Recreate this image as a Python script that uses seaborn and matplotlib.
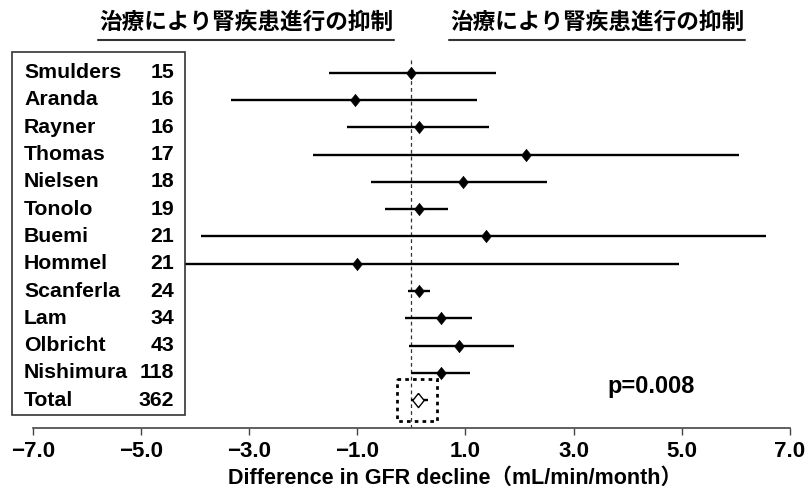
import matplotlib
matplotlib.use("Agg")
import matplotlib.pyplot as plt
import matplotlib.transforms as mtransforms
from matplotlib.patches import Rectangle
from matplotlib.lines import Line2D
import pandas as pd
import seaborn as sns

# Study data
studies = ["Smulders", "Aranda", "Rayner", "Thomas", "Nielsen", "Tonolo", "Buemi",
           "Hommel", "Scanferla", "Lam", "Olbricht", "Nishimura"]
patients = [15, 16, 16, 17, 18, 19, 21, 21, 24, 34, 43, 118]
estimate = [0.0, -1.05, 0.15, 2.12, 0.96, 0.15, 1.38, -1.0, 0.14, 0.54, 0.89, 0.54]
ci_low = [-1.52, -3.33, -1.19, -1.81, -0.75, -0.48, -3.89, -4.4, -0.06, -0.12, -0.04, 0.0]
ci_high = [1.57, 1.22, 1.44, 6.06, 2.50, 0.68, 6.56, 4.94, 0.34, 1.12, 1.89, 1.09]

total_label = "Total"
total_n = 362
total_est = 0.12
total_low, total_high = 0.0, 0.30

p_text = "p=0.008"
header = "治療により腎疾患進行の抑制"
x_ticks = [-7.0, -5.0, -3.0, -1.0, 1.0, 3.0, 5.0, 7.0]
x_label = "Difference in GFR decline（mL/min/month）"

df = pd.DataFrame({"study": studies, "n": patients, "est": estimate,
                   "lo": ci_low, "hi": ci_high})
df["row"] = range(len(df))
total_row = len(df)

sns.set_style("white")
plt.rcParams["font.family"] = ["Liberation Sans", "Noto Sans CJK JP", "DejaVu Sans"]
plt.rcParams["text.color"] = "black"
plt.rcParams["xtick.color"] = "#444444"
plt.rcParams["xtick.labelcolor"] = "black"

W, H = 808, 498
fig = plt.figure(figsize=(W / 100, H / 100), dpi=100)
ax = fig.add_axes([32.7 / W, 1 - 428.3 / H, 757.3 / W, (428.3 - 50) / H])

diamond = [(0, 1), (0.8, 0), (0, -1), (-0.8, 0), (0, 1)]

# reference line at zero
ax.vlines(0, -0.45, 13.1, colors="#333333", linestyles=(0, (3, 2.5)), lw=0.9, zorder=1)

# confidence intervals + point estimates
ax.hlines(df["row"], df["lo"], df["hi"], colors="black", lw=1.7, zorder=2)
sns.scatterplot(data=df, x="est", y="row", marker=diamond, s=80, color="black",
                edgecolor="black", linewidth=0.4, ax=ax, zorder=3, legend=False)

# pooled estimate
ax.hlines(total_row, total_low, total_high, colors="black", lw=1.7, zorder=2)
sns.scatterplot(x=[total_est], y=[total_row], marker=diamond, s=105, color="white",
                edgecolor="black", linewidth=1.0, ax=ax, zorder=3, legend=False)
ax.add_patch(Rectangle((total_est - 0.385, total_row - 0.77), 0.74, 1.52, fill=False,
                       edgecolor="black", lw=2.0, linestyle=(0, (1.3, 1.5)), zorder=4,
                       clip_on=False))

ax.text(3.62, 11.5, p_text, fontsize=17, fontweight="bold", va="center", ha="left")

# left-hand study table
box = Rectangle((12 / W, 1 - 415 / H), (185 - 12) / W, (415 - 52) / H,
                transform=fig.transFigure, facecolor="white", edgecolor="#333333",
                lw=1.2, zorder=5, clip_on=False)
ax.add_patch(box)
trans = mtransforms.blended_transform_factory(fig.transFigure, ax.transData)
names = studies + [total_label]
counts = patients + [total_n]
for i, (name, n) in enumerate(zip(names, counts)):
    ax.text(24 / W, i, name, transform=trans, fontsize=15.3, fontweight="bold",
            va="center", ha="left", zorder=6, clip_on=False)
    ax.text(174 / W, i, str(n), transform=trans, fontsize=15.3, fontweight="bold",
            va="center", ha="right", zorder=6, clip_on=False)

# headers
for x0, x1 in [(98, 394), (449, 745)]:
    fig.text((x0 + x1) / 2 / W, 1 - 22 / H, header, fontsize=16.3, fontweight="bold",
             ha="center", va="center", family=["Noto Sans CJK JP"])
    fig.add_artist(Line2D([x0 / W, x1 / W], [1 - 40 / H, 1 - 40 / H],
                          transform=fig.transFigure, color="#333333", lw=1.5))

# axis styling
ax.set_xlim(-7, 7)
ax.set_ylim(13.03, -0.83)
ax.set_yticks([])
ax.set_xticks(x_ticks)
ax.set_xticklabels([f"{v:.1f}".replace("-", "\u2212") for v in x_ticks], fontsize=16,
                   fontweight="bold")
for side in ["top", "left", "right"]:
    ax.spines[side].set_visible(False)
ax.spines["bottom"].set_color("#444444")
ax.spines["bottom"].set_linewidth(1.2)
ax.tick_params(axis="x", direction="out", length=5, width=1, pad=4, bottom=True)
ax.set_xlabel("")
ax.set_ylabel("")
fig.text(455.5 / W, 1 - 478 / H, x_label, fontsize=15.5, fontweight="bold",
         ha="center", va="center")

fig.savefig("out.png", dpi=100)
